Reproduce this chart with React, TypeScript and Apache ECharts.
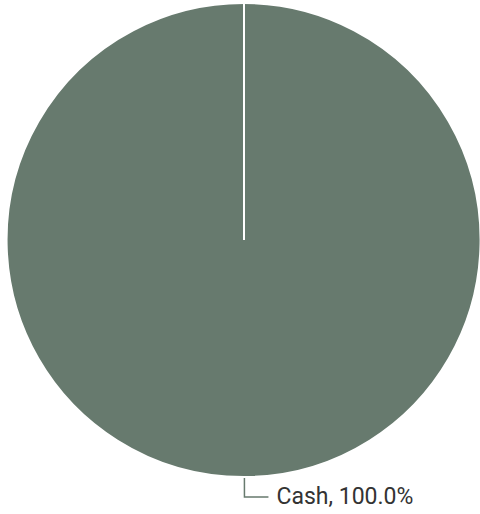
import React, { useEffect, useRef } from "react";
import * as echarts from "echarts";

const categories = ["Cash"];
const values = [100.0];
const colors = ["#677a6e"];

export default function App() {
  const ref = useRef<HTMLDivElement>(null);
  useEffect(() => {
    if (!ref.current) return;
    const chart = echarts.init(ref.current, undefined, { renderer: "svg" });
    const total = values.reduce((a, b) => a + b, 0);
    const cx = 244;
    const cy = 240;
    const r = 237;
    chart.setOption({
      animation: false,
      graphic: [
        {
          type: "line",
          z: 100,
          shape: { x1: cx, y1: cy - r, x2: cx, y2: cy },
          style: { stroke: "#ffffff", lineWidth: 2 },
        },
      ],
      series: [
        {
          type: "pie",
          center: [cx, cy],
          radius: [0, r],
          startAngle: 90.1,
          clockwise: true,
          data: categories.map((c, i) => ({
            name: c,
            value: values[i],
            itemStyle: { color: colors[i % colors.length] },
          })),
          itemStyle: { borderColor: "#ffffff", borderWidth: 2 },
          label: {
            show: true,
            position: "outside",
            formatter: (p: any) => `${p.name}, ${((p.value / total) * 100).toFixed(1)}%`,
            fontFamily: "Roboto",
            fontSize: 23,
            color: "#333333",
            distanceToLabelLine: 8,
          },
          labelLine: {
            show: true,
            length: 20,
            length2: 24,
            lineStyle: { color: "#677a6e", width: 1.5 },
          },
          emphasis: { disabled: true },
        },
      ],
    });
    return () => chart.dispose();
  }, []);
  return <div ref={ref} style={{ width: 480, height: 514, position: "absolute", left: 0, top: 0 }} />;
}
